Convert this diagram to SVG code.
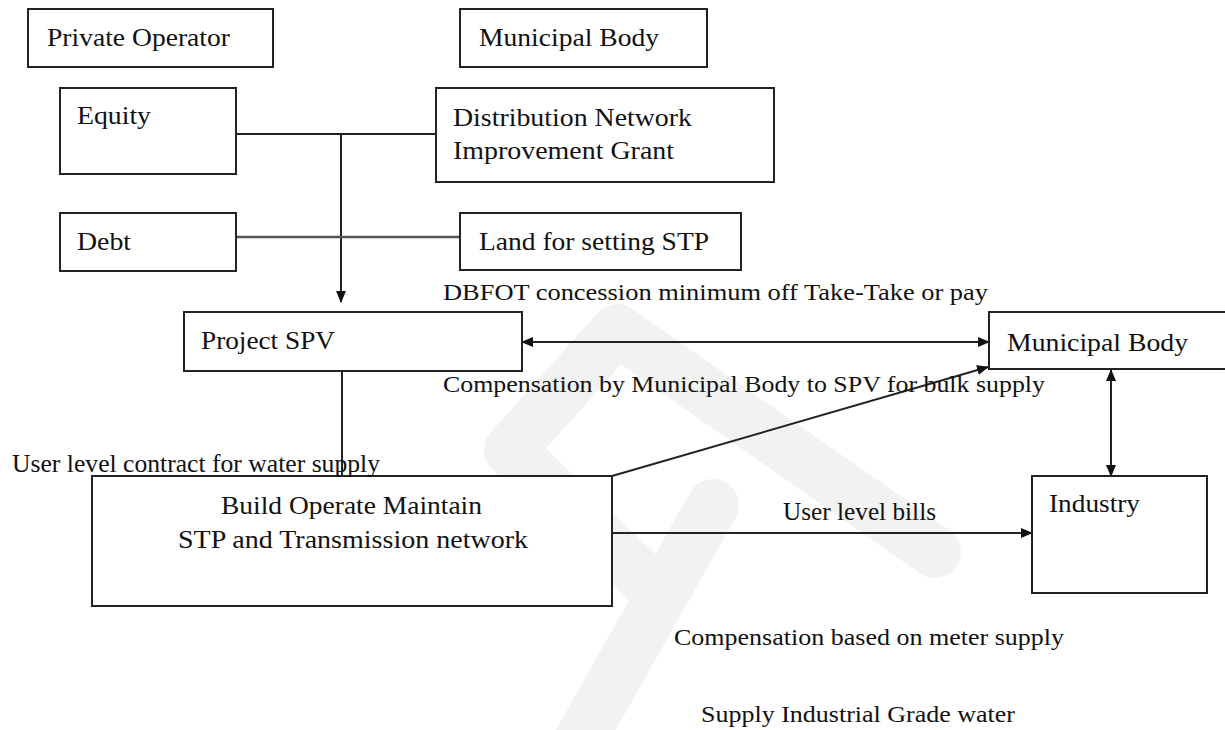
<svg xmlns="http://www.w3.org/2000/svg" width="1225" height="730" viewBox="0 0 1225 730">
<style>
.bx{fill:#fff;stroke:#222;stroke-width:2}
.t{font-family:"Liberation Serif","Times New Roman",serif;fill:#111;font-size:26px}
.s{font-family:"Liberation Serif","Times New Roman",serif;fill:#111;font-size:23px}
.c{fill:none;stroke:#222;stroke-width:2}
.wm{fill:none;stroke:#f2f2f2;stroke-width:52;stroke-linecap:round;stroke-linejoin:round}
</style>
<defs>
<marker id="ah" markerUnits="userSpaceOnUse" markerWidth="12" markerHeight="10" refX="11" refY="5" orient="auto-start-reverse">
<path d="M0,0 L12,5 L0,10 z" fill="#111"/>
</marker>
</defs>
<g id="watermark">
<path class="wm" d="M510 450 L617 330 L935 552"/>
<path class="wm" d="M510 450 L650 585"/>
<path class="wm" d="M713 505 L580 740"/>
</g>
<g id="connectors">
<path class="c" d="M236 134 H436"/>
<path class="c" d="M341 134 V302" marker-end="url(#ah)"/>
<path class="c" d="M236 237 H460" style="stroke:#555;stroke-width:2.5"/>
<path class="c" d="M342 371 V476"/>
<path class="c" d="M522 342 H989" marker-start="url(#ah)" marker-end="url(#ah)"/>
<path class="c" d="M612 476 L988 367" marker-end="url(#ah)"/>
<path class="c" d="M1111 370 V476" marker-start="url(#ah)" marker-end="url(#ah)"/>
<path class="c" d="M612 533 H1032" marker-end="url(#ah)"/>
</g>
<g id="private-operator"><rect class="bx" x="28" y="9" width="245" height="58"/><text class="t" x="47" y="46" textLength="183" lengthAdjust="spacingAndGlyphs">Private Operator</text></g>
<g id="municipal-body-top"><rect class="bx" x="460" y="9" width="247" height="58"/><text class="t" x="479" y="46" textLength="180" lengthAdjust="spacingAndGlyphs">Municipal Body</text></g>
<g id="equity"><rect class="bx" x="60" y="88" width="176" height="86"/><text class="t" x="77" y="124" textLength="74" lengthAdjust="spacingAndGlyphs">Equity</text></g>
<g id="distribution"><rect class="bx" x="436" y="88" width="338" height="94"/><text class="t" x="453" y="126" textLength="239" lengthAdjust="spacingAndGlyphs">Distribution Network</text><text class="t" x="453" y="159" textLength="221" lengthAdjust="spacingAndGlyphs">Improvement Grant</text></g>
<g id="debt"><rect class="bx" x="60" y="213" width="176" height="58"/><text class="t" x="77" y="250" textLength="54" lengthAdjust="spacingAndGlyphs">Debt</text></g>
<g id="land"><rect class="bx" x="460" y="213" width="281" height="57"/><text class="t" x="479" y="250" textLength="230" lengthAdjust="spacingAndGlyphs">Land for setting STP</text></g>
<g id="project-spv"><rect class="bx" x="184" y="312" width="338" height="59"/><text class="t" x="201" y="349" textLength="134" lengthAdjust="spacingAndGlyphs">Project SPV</text></g>
<g id="municipal-body-right"><rect class="bx" x="989" y="312" width="245" height="57"/><text class="t" x="1007" y="351" textLength="181" lengthAdjust="spacingAndGlyphs">Municipal Body</text></g>
<g id="build"><rect class="bx" x="92" y="476" width="520" height="130"/><text class="t" x="221" y="514" textLength="261" lengthAdjust="spacingAndGlyphs">Build Operate Maintain</text><text class="t" x="178" y="548" textLength="350" lengthAdjust="spacingAndGlyphs">STP and Transmission network</text></g>
<g id="industry"><rect class="bx" x="1032" y="476" width="175" height="117"/><text class="t" x="1049" y="512" textLength="91" lengthAdjust="spacingAndGlyphs">Industry</text></g>
<g id="labels">
<text class="s" x="443" y="300" textLength="545" lengthAdjust="spacingAndGlyphs">DBFOT concession minimum off Take-Take or pay</text>
<text class="s" x="443" y="392" textLength="602" lengthAdjust="spacingAndGlyphs">Compensation by Municipal Body to SPV for bulk supply</text>
<text class="s" x="12" y="472" textLength="368" lengthAdjust="spacingAndGlyphs" style="font-size:25px">User level contract for water supply</text>
<text class="t" x="783" y="520" textLength="153" lengthAdjust="spacingAndGlyphs" style="font-size:25px">User level bills</text>
<text class="s" x="674" y="645" textLength="390" lengthAdjust="spacingAndGlyphs">Compensation based on meter supply</text>
<text class="s" x="701" y="722" textLength="314" lengthAdjust="spacingAndGlyphs">Supply Industrial Grade water</text>
</g>
</svg>
